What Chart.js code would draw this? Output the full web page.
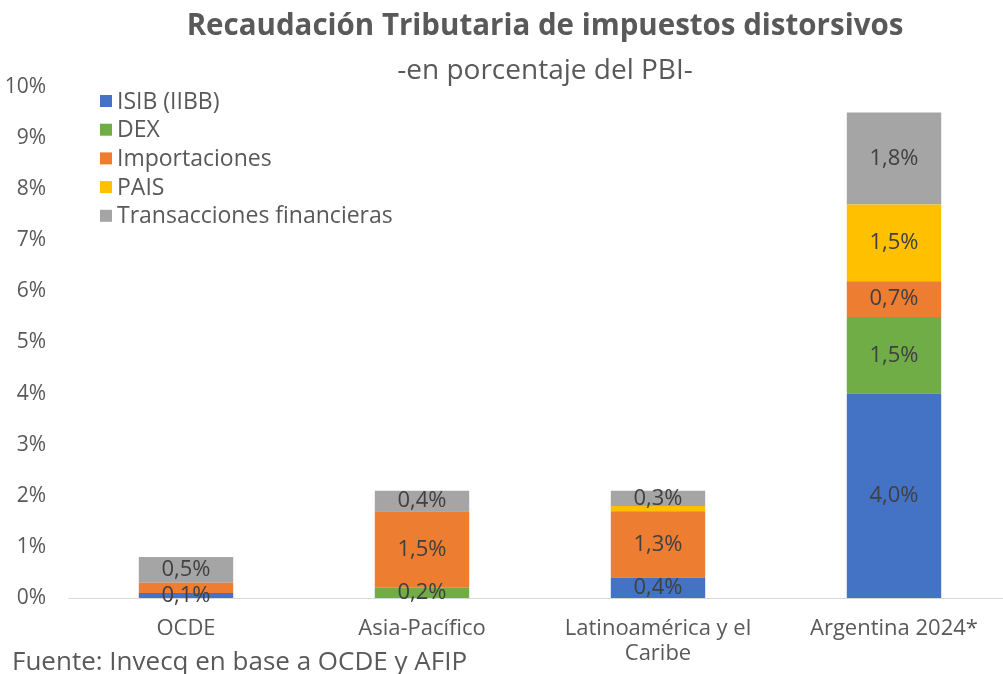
<!DOCTYPE html>
<html>
<head>
<meta charset="utf-8">
<script src="https://cdn.jsdelivr.net/npm/chart.js@4/dist/chart.umd.min.js"></script>
<style>
  html, body { margin: 0; padding: 0; background: #fff; overflow: hidden; width: 1003px; height: 674px; }
  #wrap { position: relative; width: 1016px; height: 674px; }
  canvas { position: absolute; left: 0; top: 0; }
  .txt { position: absolute; font-family: "Open Sans", sans-serif; color: #595959; white-space: nowrap; line-height: 1; }
  #title { left: 545px; top: 9px; transform: translateX(-50%); font-size: 29.5px; font-weight: bold; }
  #subtitle { left: 545px; top: 54px; transform: translateX(-50%); font-size: 28px; }
  #footer { left: 12px; top: 647px; font-size: 26px; }
</style>
</head>
<body>
<div id="wrap">
  <canvas id="c" width="1016" height="674"></canvas>
  <div class="txt" id="title">Recaudación Tributaria de impuestos distorsivos</div>
  <div class="txt" id="subtitle">-en porcentaje del PBI-</div>
  <div class="txt" id="footer">Fuente: Invecq en base a OCDE y AFIP</div>
</div>
<script>
const categories = ["OCDE", "Asia-Pacífico", ["Latinoamérica y el", "Caribe"], "Argentina 2024*"];
const seriesNames = ["ISIB (IIBB)", "DEX", "Importaciones", "PAIS", "Transacciones financieras"];
const isib = [0.1, 0, 0.4, 4.0];
const dex = [0, 0.2, 0, 1.5];
const importaciones = [0.2, 1.5, 1.3, 0.7];
const pais = [0, 0, 0.1, 1.5];
const transacciones = [0.5, 0.4, 0.3, 1.8];
// which values carry a visible data label
const showIsib = [true, false, true, true];
const showDex = [false, true, false, true];
const showImport = [false, true, true, true];
const showPais = [false, false, false, true];
const showTrans = [true, true, true, true];
const yTicks = [0, 1, 2, 3, 4, 5, 6, 7, 8, 9, 10];
const colors = ["#4472C4", "#70AD47", "#ED7D31", "#FFC000", "#A5A5A5"];

const values = [isib, dex, importaciones, pais, transacciones];
const shows = [showIsib, showDex, showImport, showPais, showTrans];
const FONT = '"Open Sans", sans-serif';

const labelPlugin = {
  id: 'segLabels',
  afterDatasetsDraw(chart) {
    const ctx = chart.ctx;
    ctx.save();
    ctx.font = '22px ' + FONT;
    ctx.fillStyle = '#404040';
    ctx.textAlign = 'center';
    ctx.textBaseline = 'middle';
    chart.data.datasets.forEach((ds, i) => {
      const meta = chart.getDatasetMeta(i);
      meta.data.forEach((el, j) => {
        if (!ds.showLabel[j]) return;
        const v = ds.data[j];
        const y = (el.y + el.base) / 2;
        ctx.fillText(v.toFixed(1).replace('.', ',') + '%', el.x, y);
      });
    });
    ctx.restore();
  }
};

const legendPlugin = {
  id: 'boxLegend',
  afterDraw(chart) {
    const ctx = chart.ctx;
    ctx.save();
    ctx.font = '23px ' + FONT;
    ctx.textAlign = 'left';
    ctx.textBaseline = 'middle';
    const x0 = 100, y0 = 101, step = 28.7;
    chart.data.datasets.forEach((ds, i) => {
      const y = y0 + i * step;
      ctx.fillStyle = ds.backgroundColor;
      ctx.fillRect(x0, y - 6, 12, 12);
      ctx.fillStyle = '#595959';
      ctx.fillText(ds.label, x0 + 17, y + 1);
    });
    ctx.restore();
  }
};

new Chart(document.getElementById('c'), {
  type: 'bar',
  data: {
    labels: categories,
    datasets: seriesNames.map((name, i) => ({
      label: name,
      data: values[i],
      showLabel: shows[i],
      backgroundColor: colors[i],
      borderWidth: 0,
      barPercentage: 0.4,
      categoryPercentage: 1.0
    }))
  },
  options: {
    responsive: false,
    animation: false,
    layout: { padding: { left: 0, right: 4, top: 87, bottom: 0 } },
    plugins: { legend: { display: false }, title: { display: false }, tooltip: { enabled: false } },
    scales: {
      x: {
        stacked: true,
        grid: { display: false },
        border: { display: true, color: '#D9D9D9', width: 1 },
        ticks: { color: '#595959', font: { family: FONT, size: 22, lineHeight: 1.1 }, padding: 11, maxRotation: 0, autoSkip: false },
        afterFit(s) { s.height = 76; }
      },
      y: {
        stacked: true,
        min: 0, max: 10,
        afterBuildTicks(s) { s.ticks = yTicks.map(v => ({ value: v })); },
        grid: { display: false },
        border: { display: false },
        ticks: { color: '#595959', font: { family: FONT, size: 21 }, padding: 14, callback: v => v + '%' },
        afterFit(s) { s.width = 68; }
      }
    }
  },
  plugins: [labelPlugin, legendPlugin]
});
</script>
</body>
</html>
